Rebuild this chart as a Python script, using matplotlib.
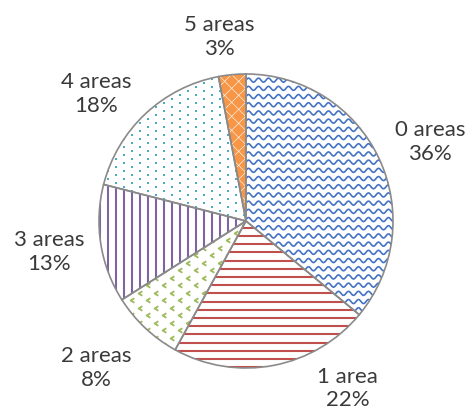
import matplotlib.pyplot as plt
import numpy as np
from matplotlib.collections import LineCollection, PolyCollection
from matplotlib.path import Path

CATEGORIES = ["0 areas", "1 area", "2 areas", "3 areas", "4 areas", "5 areas"]
SHARES = [36, 22, 8, 13, 18, 3]
COLORS = ["#4472C4", "#C0504D", "#9BBB59", "#8064A2", "#4BACC6", "#F79646"]
PATTERNS = ["wave", "hlines", "chevrons", "vlines", "dots", "diamonds"]

# label centres, in pie radii from the centre
LABEL_XY = [(1.252, 0.544), (0.690, -1.130), (-1.020, -0.993),
            (-1.340, -0.204), (-1.020, 0.871), (-0.184, 1.259)]

PX = 147.0  # pixels per pie radius
CX, CY = 246, 222  # pie centre in pixels (from top-left)
W, H = 466, 410
EDGE = "#8a8a8a"
TEXT = "#3a3a3a"

plt.rcParams["font.family"] = ["Lato", "DejaVu Sans"]


def add_pattern(ax, wedge, kind, color):
    u = 1.0 / PX
    lim = 1.05
    artists = []
    if kind == "hlines":
        ys = np.arange(-lim, lim, 8.2 * u)
        segs = [[(-lim, y), (lim, y)] for y in ys]
        artists.append(LineCollection(segs, colors=color, linewidths=1.5))
    elif kind == "vlines":
        xs = np.arange(-lim, lim, 8.0 * u)
        segs = [[(x, -lim), (x, lim)] for x in xs]
        artists.append(LineCollection(segs, colors=color, linewidths=1.5))
    elif kind == "wave":
        xs = np.arange(-lim, lim, 0.5 * u)
        segs = []
        for y0 in np.arange(-lim, lim, 8.2 * u):
            ys = y0 + 2.0 * u * np.sin(2 * np.pi * xs / (10.0 * u))
            segs.append(np.column_stack([xs, ys]))
        artists.append(LineCollection(segs, colors=color, linewidths=1.2))
    elif kind == "dots":
        gx, gy = np.meshgrid(np.arange(-lim, lim, 8 * u), np.arange(-lim, lim, 8 * u))
        gy = gy + (np.round(gx / (8 * u)) % 2) * 4 * u
        (line,) = ax.plot(gx.ravel(), gy.ravel(), linestyle="none", marker="s",
                          markersize=1.6, color=color, markeredgewidth=0)
        artists.append(line)
    elif kind == "chevrons":
        gx, gy = np.meshgrid(np.arange(-lim, lim, 16 * u), np.arange(-lim, lim, 7.5 * u))
        gx = gx + (np.round(gy / (7.5 * u)) % 2) * 8 * u
        chevron = Path([(0.5, 0.6), (-0.5, 0.0), (0.5, -0.6)],
                       [Path.MOVETO, Path.LINETO, Path.LINETO])
        (line,) = ax.plot(gx.ravel(), gy.ravel(), linestyle="none", marker=chevron,
                          markersize=3.2, markerfacecolor="none", markeredgecolor=color,
                          markeredgewidth=1.3)
        artists.append(line)
    elif kind == "diamonds":
        step = 14 * u
        gx, gy = np.meshgrid(np.arange(-lim, lim, step), np.arange(-lim, lim, step))
        cx = np.concatenate([gx.ravel(), gx.ravel() + step / 2])
        cy = np.concatenate([gy.ravel(), gy.ravel() + step / 2])
        h = 6.6 * u
        polys = [[(x, y + h), (x + h, y), (x, y - h), (x - h, y)] for x, y in zip(cx, cy)]
        artists.append(PolyCollection(polys, facecolors=color, edgecolors="none"))
    for art in artists:
        if not art.axes:
            ax.add_collection(art)
        art.set_clip_path(wedge)
        art.set_zorder(2)


fig = plt.figure(figsize=(W / 100, H / 100), dpi=100)
ax = fig.add_axes([0, 0, 1, 1])

wedges, _ = ax.pie(SHARES, startangle=90, counterclock=False,
                   wedgeprops=dict(facecolor="white", edgecolor="none"))
for wedge, kind, color in zip(wedges, PATTERNS, COLORS):
    add_pattern(ax, wedge, kind, color)

outline, _ = ax.pie(SHARES, startangle=90, counterclock=False,
                    wedgeprops=dict(facecolor="none", edgecolor=EDGE, linewidth=1.2))
for w in outline:
    w.set_zorder(3)

for name, share, (x, y) in zip(CATEGORIES, SHARES, LABEL_XY):
    ax.text(x, y, f"{name}\n{share}%", ha="center", va="center", fontsize=16,
            color=TEXT, linespacing=1.2)

ax.set_xlim(-CX / PX, (W - CX) / PX)
ax.set_ylim(-(H - CY) / PX, CY / PX)
ax.set_aspect("auto")
ax.axis("off")

fig.savefig("out.png", dpi=100)
